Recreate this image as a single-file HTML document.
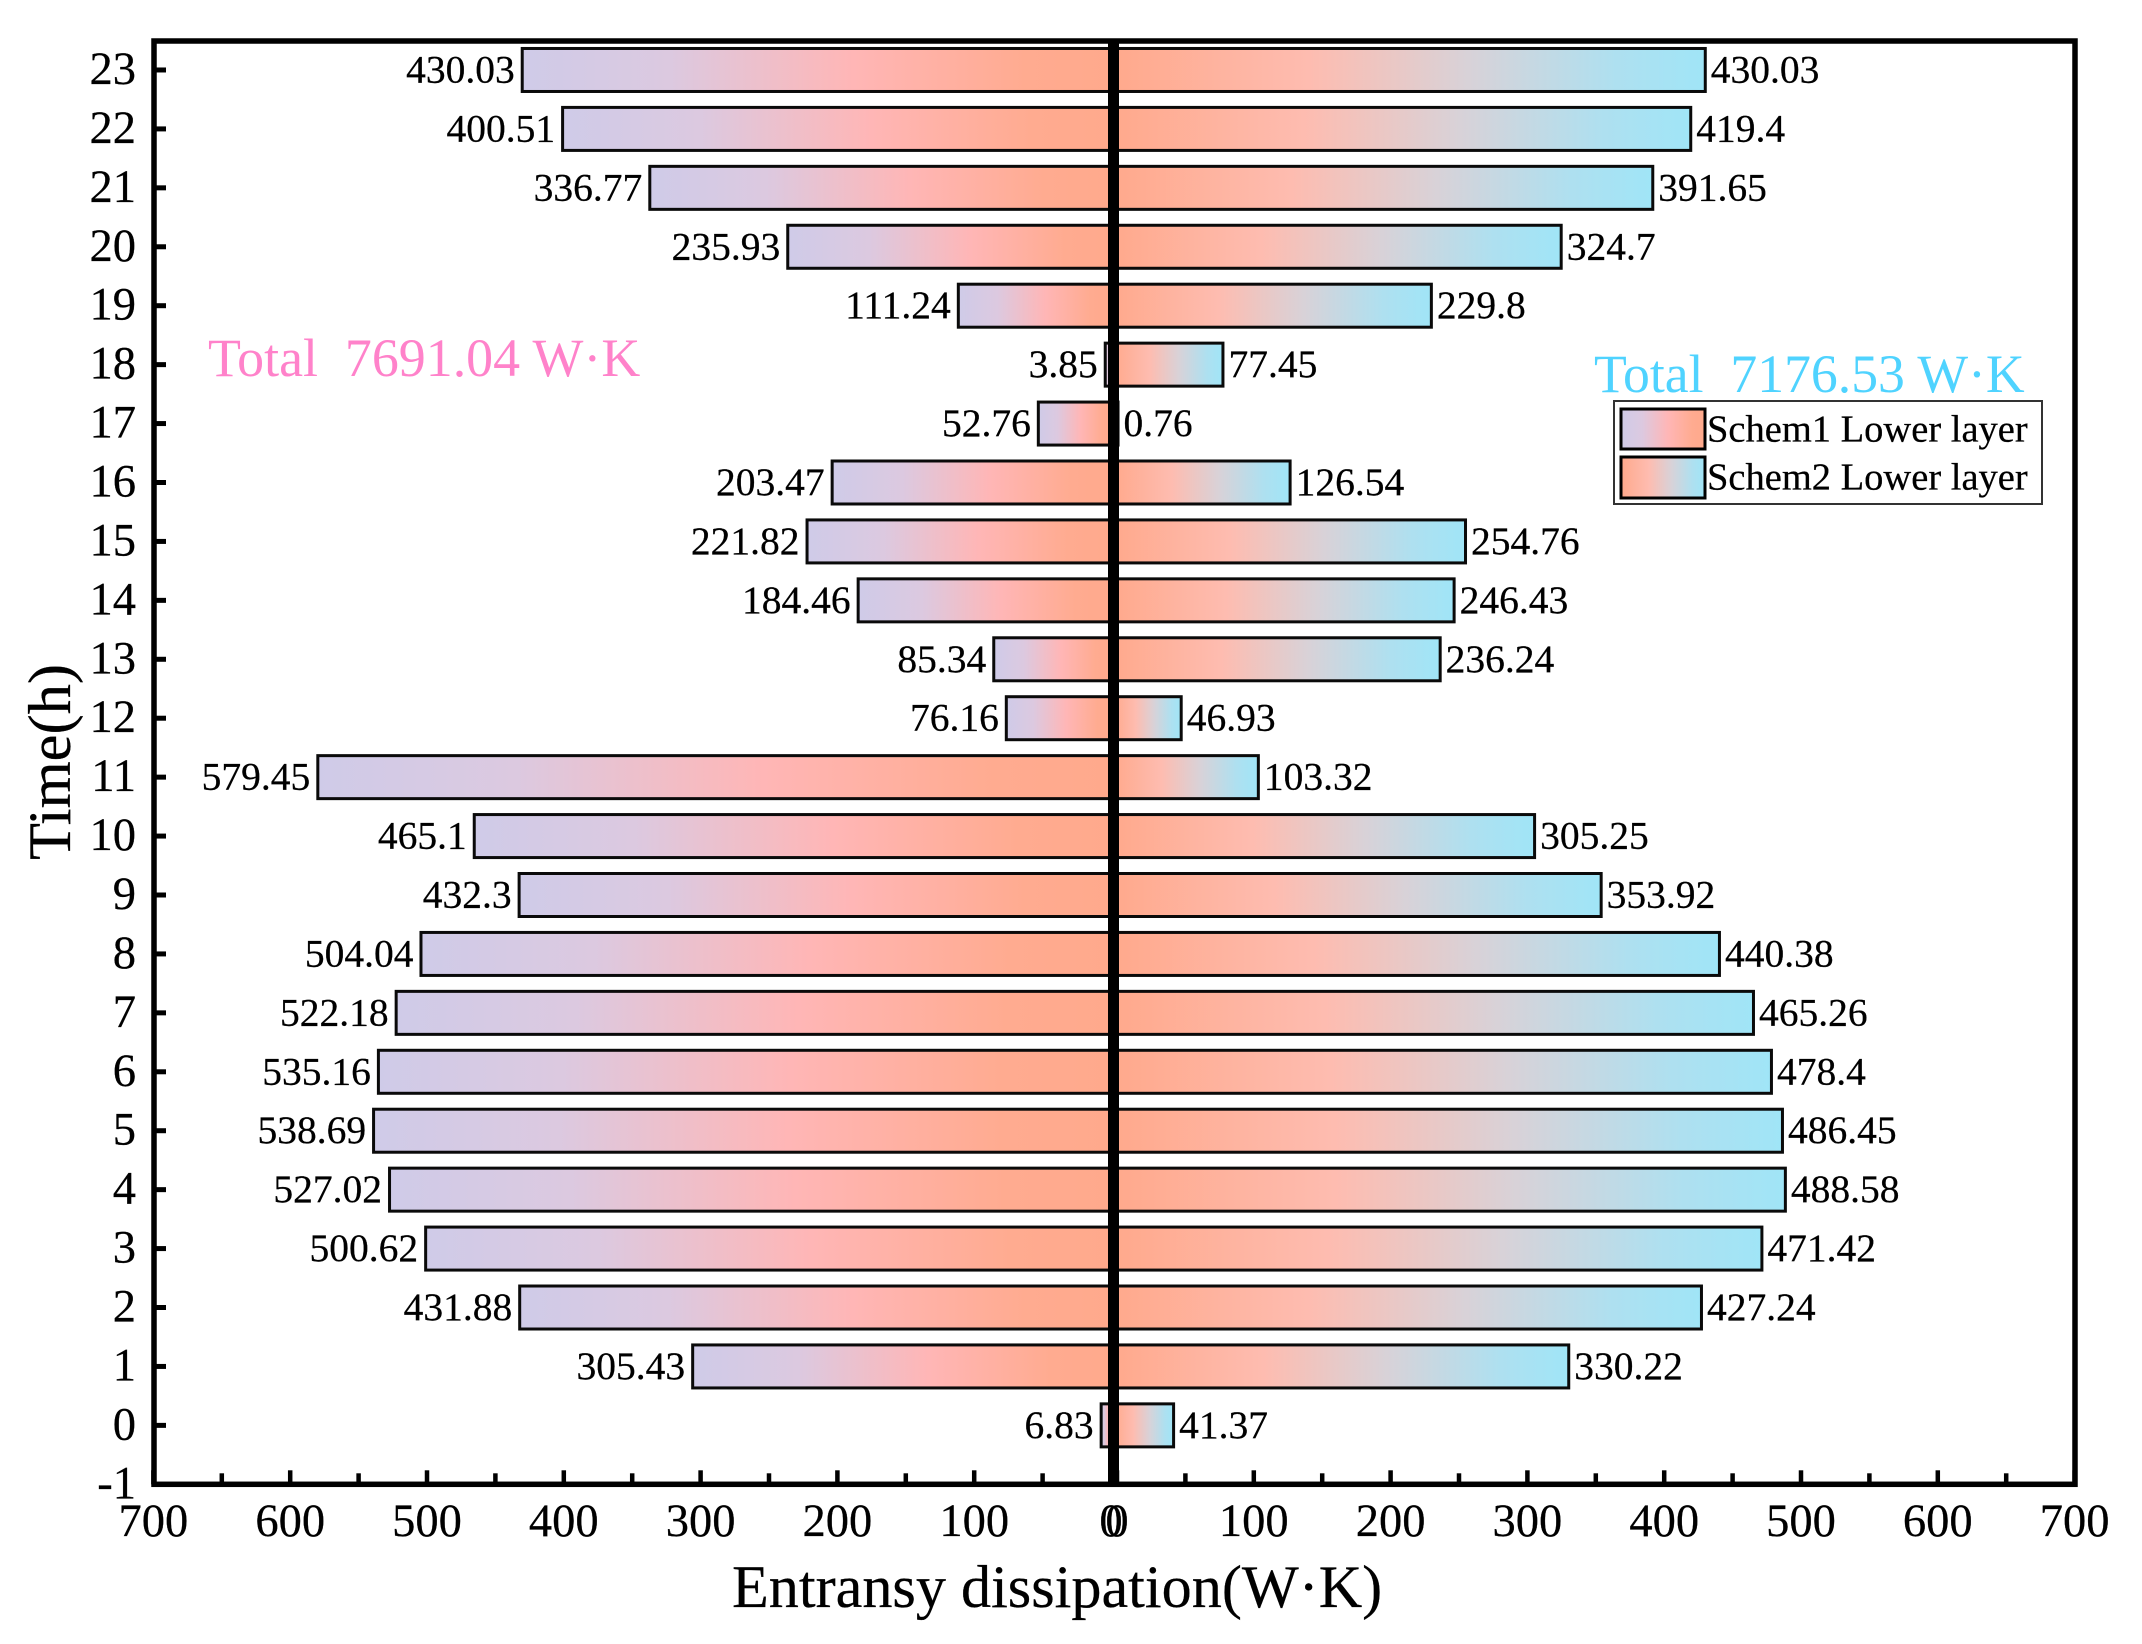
<!DOCTYPE html>
<html lang="en">
<head>
<meta charset="utf-8">
<title>Entransy dissipation by hour</title>
<style>
html,body{margin:0;padding:0;background:#fff;width:2142px;height:1644px;overflow:hidden;}
svg{display:block;font-family:"Liberation Serif","Times New Roman",serif;}
text{stroke:#000;stroke-width:0.25px;}
text.colored{stroke:none;}
</style>
</head>
<body>
<svg id="chart" xmlns="http://www.w3.org/2000/svg" width="2142" height="1644" viewBox="0 0 2142 1644">
  <defs>
    <linearGradient id="grad-left" x1="0" y1="0" x2="1" y2="0">
      <stop offset="0" stop-color="#cfcbe8"/>
      <stop offset="0.25" stop-color="#dcc9e0"/>
      <stop offset="0.56" stop-color="#ffb6b6"/>
      <stop offset="0.85" stop-color="#ffab90"/>
      <stop offset="1" stop-color="#ffa98c"/>
    </linearGradient>
    <linearGradient id="grad-right" x1="0" y1="0" x2="1" y2="0">
      <stop offset="0" stop-color="#ffa98c"/>
      <stop offset="0.33" stop-color="#febcb0"/>
      <stop offset="0.6" stop-color="#d8d2d8"/>
      <stop offset="0.85" stop-color="#aee0f0"/>
      <stop offset="1" stop-color="#a0e5f7"/>
    </linearGradient>
  </defs>
  <g id="bars-left"></g>
  <g id="bars-right"></g>
  <g id="labels" font-size="39.5" fill="#000"></g>
  <g id="axes"></g>

  <text transform="translate(70,762) rotate(-90)" text-anchor="middle" font-size="60.5" fill="#000">Time(h)</text>
  <text x="732" y="1607" font-size="60.2" fill="#000">Entransy dissipation(W·K)</text>
  <text class="colored" x="208" y="376" font-size="53.9" fill="#ff82ca" xml:space="preserve">Total  7691.04 W·K</text>
  <text class="colored" x="1594" y="392" font-size="53.7" fill="#4fd3ff" xml:space="preserve">Total  7176.53 W·K</text>

  <g>
    <rect x="1614" y="401" width="428" height="103" fill="#fff" stroke="#333" stroke-width="2"/>
    <rect x="1621" y="409" width="84" height="40" fill="url(#grad-left)" stroke="#000" stroke-width="3"/>
    <rect x="1621" y="457" width="84" height="41" fill="url(#grad-right)" stroke="#000" stroke-width="3"/>
    <text x="1707" y="441.5" font-size="38.5" fill="#000">Schem1 Lower layer</text>
    <text x="1707" y="489.5" font-size="38.5" fill="#000">Schem2 Lower layer</text>
  </g>
</svg>
<script>
var hours = [0,1,2,3,4,5,6,7,8,9,10,11,12,13,14,15,16,17,18,19,20,21,22,23];
var schem1Values = [6.83,305.43,431.88,500.62,527.02,538.69,535.16,522.18,504.04,432.3,465.1,579.45,76.16,85.34,184.46,221.82,203.47,52.76,3.85,111.24,235.93,336.77,400.51,430.03];
var schem2Values = [41.37,330.22,427.24,471.42,488.58,486.45,478.4,465.26,440.38,353.92,305.25,103.32,46.93,236.24,246.43,254.76,126.54,0.76,77.45,229.8,324.7,391.65,419.4,430.03];
var xMajorTicks = [0,100,200,300,400,500,600,700];
var xMinorTicks = [50,150,250,350,450,550,650];
var yTicks = [-1,0,1,2,3,4,5,6,7,8,9,10,11,12,13,14,15,16,17,18,19,20,21,22,23];

var NS = 'http://www.w3.org/2000/svg';
var PX_PER_UNIT = 1.368;
var ZERO_LEFT = 1111;
var ZERO_RIGHT = 1117;
var ZERO_CENTER = 1113.5;
var AXIS_BOTTOM = 1484.3;
var AXIS_TOP = 41;
var HOUR_STEP = 58.93;
var BAR_HEIGHT = 43;

function xLeft(v){ return ZERO_LEFT - v * PX_PER_UNIT; }
function xRight(v){ return ZERO_RIGHT + v * PX_PER_UNIT; }
function yPos(h){ return AXIS_BOTTOM - (h + 1) * HOUR_STEP; }

function make(tag, parent){
  var el = document.createElementNS(NS, tag);
  parent.appendChild(el);
  return el;
}
function setRect(el, x, y, w, h){
  el.setAttribute('x', x);
  el.setAttribute('y', y);
  el.setAttribute('width', w);
  el.setAttribute('height', h);
}

var barsLeft = document.getElementById('bars-left');
var barsRight = document.getElementById('bars-right');
var labels = document.getElementById('labels');
var axes = document.getElementById('axes');

hours.forEach(function(h, i){
  var cy = yPos(h);
  var l = make('rect', barsLeft);
  
  
  setRect(l, xLeft(schem1Values[i]) - 0.5, cy - BAR_HEIGHT / 2, ZERO_CENTER - xLeft(schem1Values[i]) + 0.5, BAR_HEIGHT);
  l.setAttribute('fill', 'url(#grad-left)');
  l.setAttribute('stroke', '#0a0a0a');
  l.setAttribute('stroke-width', '3');

  var r = make('rect', barsRight);
  
  
  setRect(r, ZERO_CENTER, cy - BAR_HEIGHT / 2, xRight(schem2Values[i]) - ZERO_CENTER, BAR_HEIGHT);
  r.setAttribute('fill', 'url(#grad-right)');
  r.setAttribute('stroke', '#0a0a0a');
  r.setAttribute('stroke-width', '3');

  var lt = make('text', labels);
  
  
  lt.setAttribute('x', xLeft(schem1Values[i]) - 8);
  lt.setAttribute('y', cy + 12.5);
  lt.setAttribute('text-anchor', 'end');
  lt.textContent = String(schem1Values[i]);

  var rt = make('text', labels);
  
  
  rt.setAttribute('x', xRight(schem2Values[i]) + 5.5);
  rt.setAttribute('y', cy + 12.5);
  rt.textContent = String(schem2Values[i]);
});

function tickLine(x1, y1, x2, y2, w){
  var ln = make('line', axes);
  ln.setAttribute('x1', x1);
  ln.setAttribute('y1', y1);
  ln.setAttribute('x2', x2);
  ln.setAttribute('y2', y2);
  ln.setAttribute('stroke', '#000');
  ln.setAttribute('stroke-width', w);
  return ln;
}
function axisText(x, y, anchor, str){
  var t = make('text', axes);
  t.setAttribute('x', x);
  t.setAttribute('y', y);
  t.setAttribute('text-anchor', anchor);
  t.setAttribute('font-size', '46.5');
  t.setAttribute('fill', '#000');
  t.textContent = str;
  return t;
}

/* x ticks on both half-axes */
[xLeft, xRight].forEach(function(fn, side){
  var sideName = side === 0 ? 'left' : 'right';
  xMajorTicks.forEach(function(v){
    var tk = tickLine(fn(v), AXIS_BOTTOM, fn(v), AXIS_BOTTOM - 14, 4.5);
    
    
    var tx = axisText(fn(v), 1536, 'middle', String(v));
    
    
  });
  xMinorTicks.forEach(function(v){
    var tk = tickLine(fn(v), AXIS_BOTTOM, fn(v), AXIS_BOTTOM - 11, 4.5);
    
    
  });
});

/* y ticks */
yTicks.forEach(function(h){
  if (h >= 0) {
    var tk = tickLine(154, yPos(h), 166, yPos(h), 5);
    
    
  }
  var tx = axisText(136, yPos(h) + 14, 'end', String(h));
  
  
});

/* zero line and frame */
var zero = tickLine(ZERO_CENTER, AXIS_TOP, ZERO_CENTER, AXIS_BOTTOM, 11);



var frame = make('rect', axes);


setRect(frame, 154, AXIS_TOP, 1921, AXIS_BOTTOM - AXIS_TOP);
frame.setAttribute('fill', 'none');
frame.setAttribute('stroke', '#000');
frame.setAttribute('stroke-width', '5.5');
</script>
</body>
</html>
